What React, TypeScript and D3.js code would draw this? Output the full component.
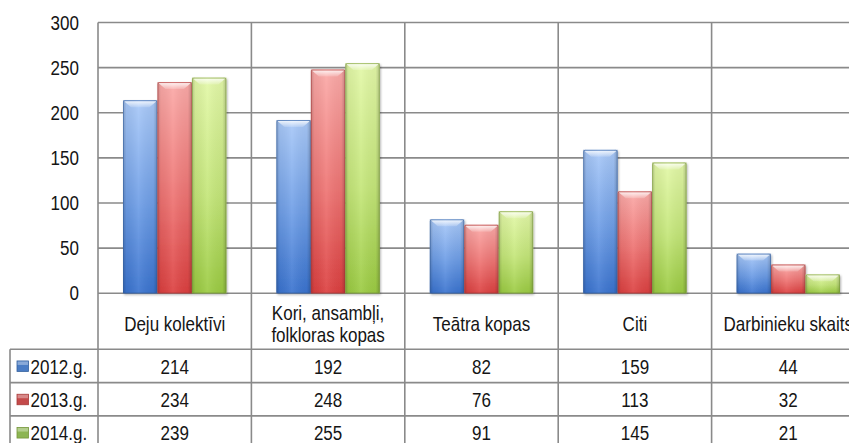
import React from "react";
import * as d3 from "d3";

const categories = ["Deju kolektīvi", "Kori, ansambļi,\nfolkloras kopas", "Teātra kopas", "Citi", "Darbinieku skaits"];
const seriesNames = ["2012.g.", "2013.g.", "2014.g."];
const values2012 = [214, 192, 82, 159, 44];
const values2013 = [234, 248, 76, 113, 32];
const values2014 = [239, 255, 91, 145, 21];
const yTicks = [0, 50, 100, 150, 200, 250, 300];

const seriesValues = [values2012, values2013, values2014];
const palettes = [
  { top: "#a9c9f8", mid: "#6d9de6", bottom: "#3a73cf", edge: "#35619f", swatch: "#4a7cc4" },
  { top: "#fbaaa8", mid: "#ee7372", bottom: "#dc4040", edge: "#a83b3a", swatch: "#c44a4a" },
  { top: "#e3f8a8", mid: "#c4e679", bottom: "#9bcb42", edge: "#75963b", swatch: "#8cb552" },
];

const W = 849;
const H = 443;
const FONT = "'Liberation Sans', Arial, sans-serif";
const FS = 20.5;
const SX = 0.83;

function NText(props: { x: number; y: number; anchor?: string; children: React.ReactNode }) {
  return (
    <text
      transform={`translate(${props.x},${props.y}) scale(${SX},1)`}
      x={0}
      y={0}
      textAnchor={props.anchor || "start"}
      dominantBaseline="central"
      fontSize={FS}
      fill="#151515"
    >
      {props.children}
    </text>
  );
}

export default function App() {
  React.useEffect(() => {
    document.body.style.margin = "0";
    document.body.style.overflow = "hidden";
  }, []);

  const left = 98;
  const colW = 153.4;
  const top = 22.5;
  const bottom = 293.3;
  const tableLeft = 10;
  const labelRowBottom = 349.3;
  const rowH = 33.3;

  const x0 = d3.scaleBand<string>().domain(categories).range([left, left + colW * categories.length]).padding(0);
  const x1 = d3.scaleBand<string>().domain(seriesNames).range([colW * 0.163, colW * 0.837]).padding(0);
  const y = d3.scaleLinear().domain([0, 300]).range([bottom, top]);

  const gridColor = "#8a8a8a";
  const rightEdge = W;

  const rowYs = seriesNames.map((_, i) => labelRowBottom + rowH * i);

  return (
    <svg width={W} height={H} style={{ position: "absolute", left: 0, top: 0, background: "#fff" }} fontFamily={FONT}>
      <defs>
        {palettes.map((p, i) => (
          <linearGradient key={i} id={`v${i}`} x1="0" y1="0" x2="0" y2="1">
            <stop offset="0%" stopColor={p.top} />
            <stop offset="55%" stopColor={p.mid} />
            <stop offset="100%" stopColor={p.bottom} />
          </linearGradient>
        ))}
        <linearGradient id="hshade" x1="0" y1="0" x2="1" y2="0">
          <stop offset="0%" stopColor="#000" stopOpacity="0.2" />
          <stop offset="10%" stopColor="#000" stopOpacity="0.05" />
          <stop offset="45%" stopColor="#fff" stopOpacity="0.08" />
          <stop offset="88%" stopColor="#000" stopOpacity="0.04" />
          <stop offset="100%" stopColor="#000" stopOpacity="0.22" />
        </linearGradient>
        <linearGradient id="cap" x1="0" y1="0" x2="0" y2="1">
          <stop offset="0%" stopColor="#fff" stopOpacity="0.8" />
          <stop offset="100%" stopColor="#fff" stopOpacity="0.15" />
        </linearGradient>
        <filter id="shadow" x="-20%" y="-5%" width="140%" height="115%">
          <feDropShadow dx="1" dy="1.5" stdDeviation="1.2" floodColor="#000" floodOpacity="0.3" />
        </filter>
      </defs>

      {yTicks.map((t) => (
        <line key={t} x1={left} x2={rightEdge} y1={y(t)} y2={y(t)} stroke={gridColor} strokeWidth={1.6} />
      ))}

      {categories.map((c) => (
        <line key={c} x1={x0(c)!} x2={x0(c)!} y1={top} y2={H} stroke={gridColor} strokeWidth={1.6} />
      ))}
      <line x1={tableLeft} x2={tableLeft} y1={labelRowBottom} y2={H} stroke={gridColor} strokeWidth={1.6} />

      {rowYs.map((ry, i) => (
        <line key={i} x1={tableLeft} x2={rightEdge} y1={ry} y2={ry} stroke={gridColor} strokeWidth={1.6} />
      ))}

      {yTicks.map((t) => (
        <NText key={t} x={79} y={y(t)} anchor="end">
          {t}
        </NText>
      ))}

      {categories.map((c, ci) => (
        <g key={c} transform={`translate(${x0(c)},0)`}>
          {seriesNames.map((s, si) => {
            const v = seriesValues[si][ci];
            const bx = x1(s)!;
            const bw = x1.bandwidth();
            const by = y(v);
            const bh = bottom - by;
            const capH = Math.min(7, bh / 2);
            const inset = 8;
            return (
              <g key={s}>
                <rect x={bx} y={by} width={bw} height={bh} fill={`url(#v${si})`} filter="url(#shadow)" />
                <rect x={bx} y={by} width={bw} height={bh} fill="url(#hshade)" />
                <path
                  d={`M${bx + 1},${by + 1} L${bx + bw - 1},${by + 1} L${bx + bw - inset},${by + capH} L${bx + inset},${by + capH} Z`}
                  fill="url(#cap)"
                />
                <rect x={bx + 0.5} y={by + 0.5} width={bw - 1} height={bh - 1} fill="none" stroke={palettes[si].edge} strokeOpacity={0.55} strokeWidth={1} rx={1.5} />
              </g>
            );
          })}
        </g>
      ))}

      {categories.map((c) => {
        const lines = c.split("\n");
        const cx = x0(c)! + colW / 2;
        const cy = lines.length === 1 ? 323.5 : 312.5;
        return (
          <g key={c}>
            {lines.map((l, li) => (
              <NText key={li} x={cx} y={cy + li * 22.5} anchor="middle">
                {l}
              </NText>
            ))}
          </g>
        );
      })}

      {seriesNames.map((s, si) => {
        const cy = rowYs[si] + rowH / 2 + 0.5;
        return (
          <g key={s}>
            <rect x={17} y={cy - 5.5} width={11.5} height={10.5} fill={palettes[si].swatch} stroke={palettes[si].edge} strokeWidth={0.8} />
            <rect x={17.5} y={cy - 5} width={10.5} height={3.5} fill="#fff" opacity={0.35} />
            <NText x={30.5} y={cy}>
              {s}
            </NText>
            {categories.map((c, ci) => (
              <NText key={c} x={x0(c)! + colW / 2} y={cy} anchor="middle">
                {seriesValues[si][ci]}
              </NText>
            ))}
          </g>
        );
      })}
    </svg>
  );
}
